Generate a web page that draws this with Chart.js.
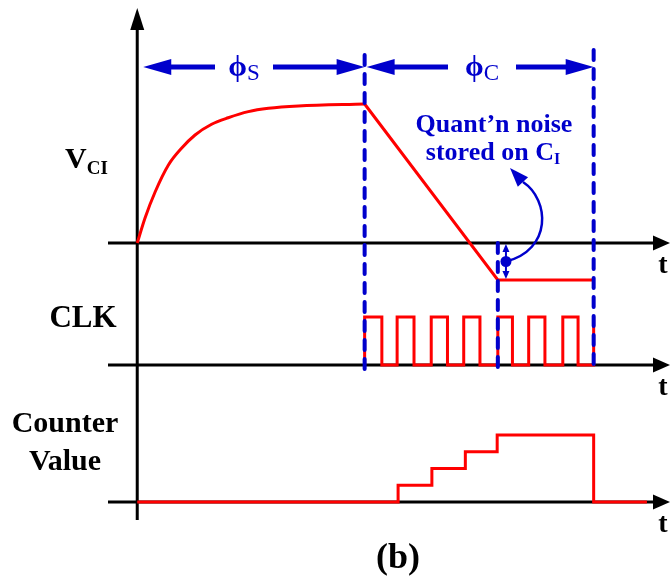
<!DOCTYPE html>
<html>
<head>
<meta charset="utf-8">
<script src="https://cdn.jsdelivr.net/npm/chart.js@4.4.0/dist/chart.umd.min.js"></script>
<style>
body{margin:0;background:#fff}
</style>
</head>
<body>
<canvas id="c" width="670" height="578"></canvas>
<script>
// time in clock periods, t=0 where the integrator starts charging
const phaseEnds = [7.0, 14.05]      // end of phi_S, end of phi_C
const quantT = 11.1                 // ramp reaches its end level, counter stops
const noiseT = 11.35

// V_CI, normalised to the plateau
const chargeT = [0, 0.24, 0.55, 0.96, 1.37, 1.78, 2.29, 2.80, 3.42, 4.04, 4.96, 7.0]
const chargeV = [0, 0.18, 0.367, 0.561, 0.683, 0.777, 0.854, 0.901, 0.945, 0.969, 0.986, 1.0]
const dischargeT = [7.0, 11.1, 14.05]
const dischargeV = [1.0, -0.266, -0.266]

// CLK edges (stepped)
const clkT = [7.0, 7.0, 7.53, 8.0, 8.52, 9.05, 9.55, 10.05, 10.55, 11.1, 11.55, 12.05, 12.55, 13.1, 13.57, 14.05]
const clkV = [0, 1, 0, 1, 0, 1, 0, 1, 0, 1, 0, 1, 0, 1, 0, 1]

// counter value (stepped)
const cntT = [0, 8.03, 9.07, 10.1, 11.08, 14.05, 15.69]
const cntV = [0, 1, 2, 3, 4, 0, 0]

// three traces share one vertical scale, each on its own lane
const laneBase = {vci: 277, clk: 155, cnt: 18}
const laneGain = {vci: 139, clk: 48, cnt: 16.75}

const RED = '#ff0000', BLUE = '#0000cc'
const SERIF = '"Liberation Serif", "Times New Roman", serif'

function lane(ts, vs, k){
    return ts.map((t,i) => ({x: t, y: laneBase[k] + laneGain[k]*vs[i]}))
}

function line(ctx, x1, y1, x2, y2){
    ctx.beginPath(); ctx.moveTo(x1, y1); ctx.lineTo(x2, y2); ctx.stroke()
}

function tri(ctx, x, y, ang, len, half){
    const c = Math.cos(ang), s = Math.sin(ang)
    const bx = x - len*c, by = y - len*s
    ctx.beginPath()
    ctx.moveTo(x, y)
    ctx.lineTo(bx - half*s, by + half*c)
    ctx.lineTo(bx + half*s, by - half*c)
    ctx.closePath(); ctx.fill()
}

function subText(ctx, main, sub, cx, y, mainFont, subFont, drop, align){
    ctx.font = mainFont; const w1 = ctx.measureText(main).width
    ctx.font = subFont; const w2 = ctx.measureText(sub).width
    let x = align === 'left' ? cx : cx - (w1 + w2)/2
    ctx.textAlign = 'left'
    ctx.font = mainFont; ctx.fillText(main, x, y)
    ctx.font = subFont; ctx.fillText(sub, x + w1, y + drop)
}

function span(ctx, xa, xb, y, sub, cx, gap){
    ctx.lineWidth = 5
    line(ctx, xa + 26, y, cx - gap, y)
    line(ctx, cx + gap, y, xb - 26, y)
    tri(ctx, xa, y, Math.PI, 28, 8)
    tri(ctx, xb, y, 0, 28, 8)
    subText(ctx, 'ϕ', sub, cx, y + 9, 'bold 30px ' + SERIF, '23px ' + SERIF, 4)
}

const diagram = {
    id: 'diagram',
    beforeDatasetsDraw(chart){
        const ctx = chart.ctx, xs = chart.scales.x, ys = chart.scales.y, a = chart.chartArea
        const x0 = xs.getPixelForValue(0)
        ctx.save()
        ctx.strokeStyle = '#000'; ctx.fillStyle = '#000'; ctx.lineWidth = 3
        Object.values(laneBase).forEach(b => {
            const y = ys.getPixelForValue(b)
            line(ctx, a.left, y, a.right - 15, y)
            tri(ctx, a.right, y, 0, 17, 7.5)
            ctx.font = 'bold 28px ' + SERIF
            ctx.textAlign = 'center'
            ctx.fillText('t', a.right - 7, y + 30)
        })
        line(ctx, x0, a.bottom, x0, a.top + 20)
        tri(ctx, x0, a.top, -Math.PI/2, 22, 7)
        ctx.restore()
    },
    afterDatasetsDraw(chart){
        const ctx = chart.ctx, xs = chart.scales.x, ys = chart.scales.y
        const x0 = xs.getPixelForValue(0)
        const xS = xs.getPixelForValue(phaseEnds[0])
        const xC = xs.getPixelForValue(phaseEnds[1])
        const xQ = xs.getPixelForValue(quantT)
        const yV = ys.getPixelForValue(laneBase.vci)
        const yClk = ys.getPixelForValue(laneBase.clk)
        const yEnd = ys.getPixelForValue(laneBase.vci + laneGain.vci*dischargeV[2])
        ctx.save()

        // phase boundaries
        ctx.strokeStyle = BLUE; ctx.fillStyle = BLUE
        ctx.lineWidth = 4; ctx.lineCap = 'round'
        ctx.setLineDash([10, 9])
        line(ctx, xS, 55, xS, yClk + 4)
        line(ctx, xQ, yV, xQ, yClk + 4)
        line(ctx, xC, 50, xC, yClk + 4)
        ctx.setLineDash([]); ctx.lineCap = 'butt'

        // phase spans
        span(ctx, x0 + 6, xS, 67, 'S', 244, 29)
        span(ctx, xS + 2, xC, 67, 'C', 482, 34)

        // quantisation noise marker
        const xN = xs.getPixelForValue(noiseT)
        const yDot = (yV + yEnd)/2
        ctx.lineWidth = 2
        line(ctx, xN, yV + 6, xN, yEnd - 6)
        tri(ctx, xN, yV + 1, -Math.PI/2, 8, 3.5)
        tri(ctx, xN, yEnd - 1, Math.PI/2, 8, 3.5)
        ctx.beginPath(); ctx.arc(xN, yDot, 5.5, 0, Math.PI*2); ctx.fill()
        ctx.lineWidth = 2.5
        ctx.beginPath()
        ctx.moveTo(xN, yDot)
        ctx.bezierCurveTo(552, 250, 550, 200, 523, 182)
        ctx.stroke()
        tri(ctx, 510, 168, Math.atan2(-14, -13), 19, 7)

        ctx.textAlign = 'center'
        ctx.font = 'bold 26px ' + SERIF
        ctx.fillText('Quant’n noise', 494, 132)
        subText(ctx, 'stored on C', 'I', 493, 160, 'bold 26px ' + SERIF, 'bold 16px ' + SERIF, 4)

        // lane labels
        ctx.fillStyle = '#000'
        subText(ctx, 'V', 'CI', 65, 168, 'bold 30px ' + SERIF, 'bold 19px ' + SERIF, 6, 'left')
        ctx.textAlign = 'center'
        ctx.font = 'bold 31px ' + SERIF
        ctx.fillText('CLK', 83, 327)
        ctx.font = 'bold 30px ' + SERIF
        ctx.fillText('Counter', 65, 432)
        ctx.fillText('Value', 65, 470)
        ctx.font = 'bold 36px ' + SERIF
        ctx.fillText('(b)', 398, 568)
        ctx.restore()
    }
}

const trace = {borderColor: RED, backgroundColor: RED, borderWidth: 3, pointRadius: 0, fill: false}

const ctx = document.getElementById('c').getContext('2d')
new Chart(ctx, {
    type: 'line',
    data: {
        datasets: [
            {...trace, data: lane(chargeT, chargeV, 'vci'), cubicInterpolationMode: 'monotone'},
            {...trace, data: lane(dischargeT, dischargeV, 'vci'), tension: 0},
            {...trace, data: lane(clkT, clkV, 'clk'), stepped: true},
            {...trace, data: lane(cntT, cntV, 'cnt'), stepped: true}
        ]
    },
    options: {
        responsive: false,
        animation: false,
        layout: {padding: {left: 108, right: 0, top: 8, bottom: 58}},
        scales: {
            x: {type: 'linear', min: -0.9, max: 16.4, display: false},
            y: {type: 'linear', min: 0, max: 512, display: false}
        },
        plugins: {legend: {display: false}, tooltip: {enabled: false}, colors: {enabled: false}}
    },
    plugins: [diagram]
})
</script>
</body>
</html>
